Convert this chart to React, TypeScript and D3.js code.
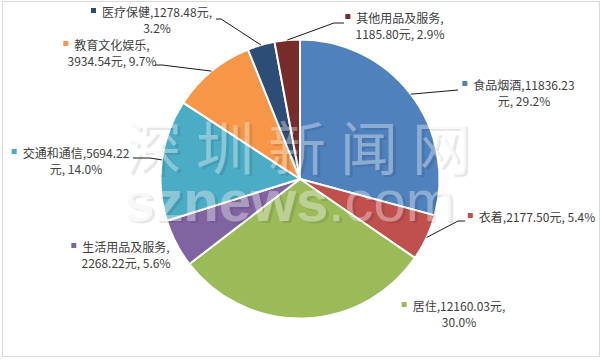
import React, { useEffect, useRef } from 'react';
import * as d3 from 'd3';

const categories = ['食品烟酒', '衣着', '居住', '生活用品及服务', '交通和通信', '教育文化娱乐', '医疗保健', '其他用品及服务'];
const values = [11836.23, 2177.5, 12160.03, 2268.22, 5694.22, 3934.54, 1278.48, 1185.8];
const percentLabels = ['29.2%', '5.4%', '30.0%', '5.6%', '14.0%', '9.7%', '3.2%', '2.9%'];
const colors = ['#4F81BD', '#C0504D', '#9BBB59', '#8064A2', '#4BACC6', '#F79646', '#2C4D75', '#772C2A'];

// label layout: text centre x, first baseline y, token index that starts line 2, line gap, leader points near the label
const labelLayout = [
  { cx: 524, y: 90, split: 2, gap: 16, leader: [[458, 90]] },
  { cx: 537, y: 222, split: null, gap: 16, leader: [[465, 221], [458, 221]] },
  { cx: 459, y: 311, split: 3, gap: 16, leader: [] },
  { cx: 126, y: 252, split: 1, gap: 16, leader: [] },
  { cx: 76, y: 158, split: 2, gap: 16, leader: [[133, 158], [150, 158]] },
  { cx: 112, y: 50, split: 1, gap: 16, leader: [[155, 65], [162, 65]] },
  { cx: 157, y: 17, split: 3, gap: 16, leader: [[216, 19], [221, 19]] },
  { cx: 400, y: 23, split: 1, gap: 16, leader: [[344, 23], [334, 23]] },
];

const W = 602;
const H = 360;
const CX = 300;
const CY = 179;
const R = 139.5;

export default function App() {
  const ref = useRef<SVGSVGElement>(null);

  useEffect(() => {
    const svg = d3.select(ref.current);
    svg.selectAll('*').remove();

    const defs = svg.append('defs');
    const f = defs.append('filter').attr('id', 'wmShadow')
      .attr('x', '-10%').attr('y', '-20%').attr('width', '130%').attr('height', '150%');
    f.append('feDropShadow').attr('dx', 3).attr('dy', 2).attr('stdDeviation', 0.6)
      .attr('flood-color', '#000').attr('flood-opacity', 0.28);

    svg.append('rect').attr('x', 0).attr('y', 0).attr('width', W).attr('height', H).attr('fill', '#fff');
    svg.append('rect').attr('x', 2.5).attr('y', 1.5).attr('width', 597).attr('height', 355)
      .attr('fill', 'none').attr('stroke', '#d9d9d9').attr('stroke-width', 1);

    const pie = d3.pie<number>().sort(null).value((d) => d);
    const arcs = pie(values);
    const arc = d3.arc<d3.PieArcDatum<number>>().innerRadius(0).outerRadius(R);

    const g = svg.append('g').attr('transform', `translate(${CX},${CY})`);
    g.selectAll('path').data(arcs).join('path')
      .attr('d', arc as any)
      .attr('fill', (_d, i) => colors[i])
      .attr('stroke', '#fff')
      .attr('stroke-width', 2)
      .attr('stroke-linejoin', 'round');

    // watermark
    const wm = svg.append('g').attr('pointer-events', 'none').attr('filter', 'url(#wmShadow)');
    wm.append('text').attr('x', 124).attr('y', 170)
      .attr('font-family', '"Noto Sans CJK SC", sans-serif').attr('font-size', 58)
      .attr('letter-spacing', 14).attr('fill', '#fff').attr('fill-opacity', 0.34).text('深圳新闻网');
    const t2 = wm.append('text').attr('x', 122).attr('y', 221)
      .attr('font-family', '"Liberation Sans", Arial, sans-serif').attr('font-size', 58)
      .attr('fill', '#fff').attr('fill-opacity', 0.34);
    t2.append('tspan').attr('font-weight', 'bold').text('sznews');
    t2.append('tspan').attr('font-weight', 'normal').text('.com');

    // labels
    const lg = svg.append('g');
    arcs.forEach((a, i) => {
      const L = labelLayout[i];
      const tokens = [categories[i] + ',', values[i].toFixed(2), '元, ', percentLabels[i]];
      let line1: string;
      let line2: string | null = null;
      if (L.split === null) {
        line1 = tokens.join('');
      } else {
        line1 = tokens.slice(0, L.split).join('');
        line2 = tokens.slice(L.split).join('').trim();
      }
      const t1 = lg.append('text').attr('x', L.cx).attr('y', L.y)
        .attr('text-anchor', 'middle')
        .attr('font-family', '"Noto Sans CJK SC", sans-serif').attr('font-size', 12)
        .attr('fill', '#404040').text(line1);
      if (line2) {
        lg.append('text').attr('x', L.cx).attr('y', L.y + L.gap)
          .attr('text-anchor', 'middle')
          .attr('font-family', '"Noto Sans CJK SC", sans-serif').attr('font-size', 12)
          .attr('fill', '#404040').text(line2);
      }
      const w = (t1.node() as SVGTextElement).getComputedTextLength();
      lg.append('rect').attr('x', L.cx - w / 2 - 11).attr('y', L.y - 9)
        .attr('width', 5).attr('height', 5).attr('fill', colors[i]);

      if (L.leader.length) {
        const mid = (a.startAngle + a.endAngle) / 2;
        const rx = CX + R * Math.sin(mid);
        const ry = CY - R * Math.cos(mid);
        const pts: [number, number][] = [...(L.leader as [number, number][]), [rx, ry]];
        lg.append('path').attr('d', d3.line()(pts) as string)
          .attr('fill', 'none').attr('stroke', '#1a1a1a').attr('stroke-width', 1);
      }
    });
  }, []);

  return (
    <svg ref={ref} width={W} height={H}
      style={{ position: 'absolute', left: 0, top: 0, display: 'block' }} />
  );
}
